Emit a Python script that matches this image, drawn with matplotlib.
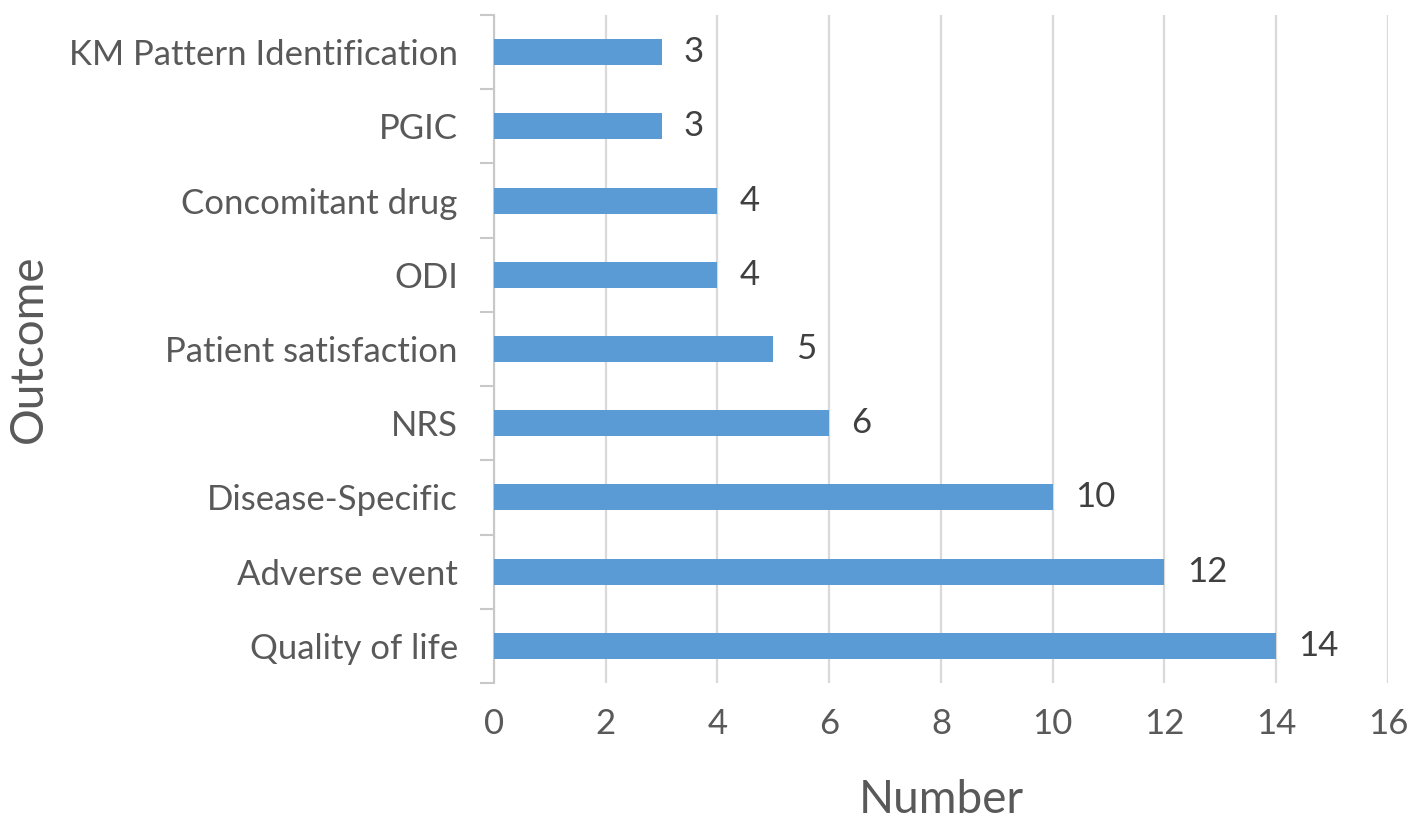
import numpy as np
import matplotlib.pyplot as plt
from matplotlib.ticker import FixedLocator

plt.rcParams['font.family'] = ['Lato', 'DejaVu Sans']

# data, bottom to top
outcomes = ['Quality of life', 'Adverse event', 'Disease-Specific', 'NRS',
            'Patient satisfaction', 'ODI', 'Concomitant drug', 'PGIC',
            'KM Pattern Identification']
counts = [14, 12, 10, 6, 5, 4, 4, 3, 3]
xticks = [0, 2, 4, 6, 8, 10, 12, 14, 16]

fig = plt.figure(figsize=(14.17, 8.26), dpi=100)
ax = fig.add_axes([0.3486, 0.1731, 0.6309, 0.8087])

y = np.arange(len(outcomes))
ax.barh(y, counts, height=0.35, color='#5B9BD5', zorder=3)

for yi, v in zip(y, counts):
    ax.annotate(str(v), (v, yi), xytext=(16, 0), textcoords='offset points',
                va='center', ha='left', fontsize=25, color='#404040')

ax.set_xlim(0, 16)
ax.set_ylim(-0.5, len(outcomes) - 0.5)
ax.set_xticks(xticks)
ax.set_yticks(y)
ax.set_yticklabels(outcomes)
ax.yaxis.set_minor_locator(FixedLocator(np.arange(-0.5, len(outcomes), 1)))

ax.tick_params(axis='x', length=0, pad=18, labelsize=25, labelcolor='#595959')
ax.tick_params(axis='y', which='major', length=0, pad=26, labelsize=25, labelcolor='#595959')
ax.tick_params(axis='y', which='minor', length=10, width=1.5, color='#c8c8c8')

ax.grid(axis='x', color='#d9d9d9', linewidth=1.6, zorder=0)
for s in ['top', 'right', 'bottom']:
    ax.spines[s].set_visible(False)
ax.spines['left'].set_color('#c8c8c8')
ax.spines['left'].set_linewidth(1.5)

ax.set_xlabel('Number', fontsize=33, color='#595959', labelpad=28)
ax.set_ylabel('Outcome', fontsize=33, color='#595959', labelpad=14)

fig.savefig('out.png', dpi=100)
